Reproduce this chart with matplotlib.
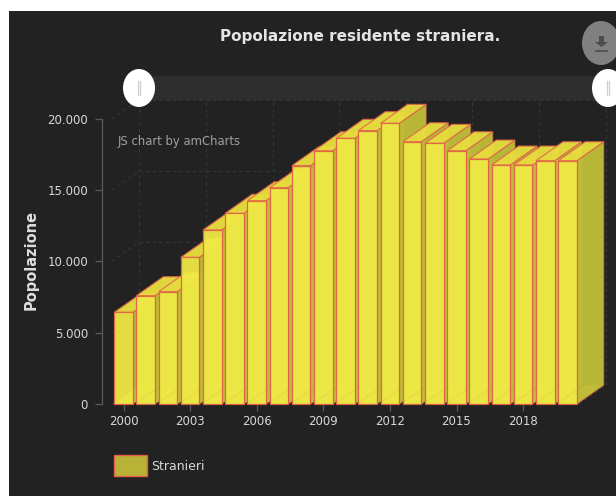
import matplotlib
matplotlib.use('Agg')
import matplotlib.pyplot as plt
from matplotlib.patches import Ellipse, Polygon, Rectangle

years = list(range(2000, 2021))
stranieri = [6420, 7590, 7870, 10270, 12190, 13360, 14240, 15150, 16690, 17740, 18610,
             19150, 19660, 18370, 18260, 17740, 17160, 16740, 16740, 17040, 17040]
y_ticks = [0, 5000, 10000, 15000, 20000]
y_labels = ['0', '5.000', '10.000', '15.000', '20.000']
x_tick_years = [2000, 2003, 2006, 2009, 2012, 2015, 2018]

W, H = 616, 496
BG = '#222222'
TEXT = '#d8d8d8'
EDGE = '#e2604a'
GRID = '#363636'

# fake 3d depth, in data units (27px right, 19px up)
DEPTH_X = 1.216
DEPTH_Y = 1330
BAR_W = 0.84


def px_box(left, top, right, bottom):
    return [left / W, 1 - bottom / H, (right - left) / W, (bottom - top) / H]


def draw_bar(ax, i, value):
    l, r = i - BAR_W / 2, i + BAR_W / 2
    dx, dy = DEPTH_X, DEPTH_Y
    # points, fill, fill alpha, edge alpha
    faces = [
        ([(l, 0), (r, 0), (r + dx, dy), (l + dx, dy)], '#c4c23c', 0.9, 0.25),  # floor
        ([(r, 0), (r + dx, dy), (r + dx, value + dy), (r, value)], '#bfbd38', 0.96, 0.45),  # side
        ([(l, value), (r, value), (r + dx, value + dy), (l + dx, value + dy)], '#e6dc3e', 0.97, 0.8),  # top
        ([(l, 0), (r, 0), (r, value), (l, value)], '#f0ea46', 0.94, 0.95),  # front
    ]
    for pts, color, fill_alpha, edge_alpha in faces:
        ax.add_patch(Polygon(pts, closed=True, facecolor=color, edgecolor='none',
                             alpha=fill_alpha, clip_on=False, zorder=3))
        ax.add_patch(Polygon(pts, closed=True, facecolor='none', edgecolor=EDGE,
                             linewidth=0.9, alpha=edge_alpha, clip_on=False, zorder=3))


fig = plt.figure(figsize=(W / 100, H / 100), dpi=100, facecolor='white')
fig.add_artist(Rectangle((9 / W, 0), 1, 1 - 11 / H, transform=fig.transFigure,
                         facecolor=BG, edgecolor='none', zorder=-1))

ax = fig.add_axes(px_box(112.4, 118.5, 578.6, 404))
ax.patch.set_visible(False)
ax.set_xlim(-0.5, 20.5)
ax.set_ylim(0, 20000)

# dashed back wall, left wall and floor
grid_style = dict(color=GRID, linewidth=0.8, linestyle=(0, (3, 3)), clip_on=False, zorder=1)
for v in y_ticks:
    ax.plot([-0.5 + DEPTH_X, 20.5 + DEPTH_X], [v + DEPTH_Y, v + DEPTH_Y], **grid_style)
    ax.plot([-0.5, -0.5 + DEPTH_X], [v, v + DEPTH_Y], **grid_style)
for k in range(-1, 21, 3):
    gx = k + 0.5 + DEPTH_X
    ax.plot([gx, gx], [DEPTH_Y, 20000 + DEPTH_Y], **grid_style)
    ax.plot([gx - DEPTH_X, gx], [0, DEPTH_Y], **grid_style)
ax.plot([20.5 + DEPTH_X] * 2, [DEPTH_Y, 20000 + DEPTH_Y], **grid_style)
ax.plot([20.5, 20.5 + DEPTH_X], [0, DEPTH_Y], **grid_style)

for i, value in enumerate(stranieri):
    draw_bar(ax, i, value)

for side in ['top', 'right', 'bottom']:
    ax.spines[side].set_visible(False)
ax.spines['left'].set_position(('outward', 7.5))
ax.spines['left'].set_color('#5a5a5a')
ax.spines['left'].set_linewidth(0.9)
ax.set_yticks(y_ticks)
ax.set_yticklabels(y_labels)
ax.set_xticks([years.index(y) for y in x_tick_years])
ax.set_xticklabels([str(y) for y in x_tick_years])
ax.tick_params(axis='both', colors='#5a5a5a', labelcolor=TEXT, labelsize=8.5, length=5, width=0.9)
ax.tick_params(axis='x', pad=3)
ax.tick_params(axis='y', pad=5)

# page furniture in pixel coordinates
ui = fig.add_axes([0, 0, 1, 1], zorder=5)
ui.patch.set_visible(False)
ui.axis('off')
ui.set_xlim(0, W)
ui.set_ylim(H, 0)

ui.add_patch(Rectangle((139, 76), 469, 24, facecolor='#2e2e2e', edgecolor='none'))
for hx in [139, 608]:
    ui.add_patch(Ellipse((hx, 88), 32, 38, facecolor='white', edgecolor='none'))
    ui.plot([hx - 1.2, hx - 1.2], [81, 95], color='#cfcfcf', linewidth=0.9)
    ui.plot([hx + 1.2, hx + 1.2], [81, 95], color='#cfcfcf', linewidth=0.9)

ui.add_patch(Ellipse((601, 43), 38, 44, facecolor='#808080', edgecolor='none'))
ui.add_patch(Polygon([(599, 36), (604, 36), (604, 42), (608, 42), (601.5, 47), (595, 42), (599, 42)],
                     closed=True, facecolor='#4c4c4c', edgecolor='none'))
ui.plot([596, 607], [50.5, 50.5], color='#4c4c4c', linewidth=1.2)

ui.text(360, 37, 'Popolazione residente straniera.', color='#e4e4e4', fontsize=11,
        fontweight='bold', ha='center', va='center')
ui.text(118, 142, 'JS chart by amCharts', color='#a0a0a0', fontsize=8.4, va='center')
ui.text(31, 260, 'Popolazione', color='#dddddd', fontsize=10.5, fontweight='bold',
        rotation=90, ha='center', va='center')

ui.add_patch(Rectangle((113.5, 455), 33, 20.5, facecolor='#b8b336', edgecolor=EDGE, linewidth=1))
ui.text(151, 466, 'Stranieri', color=TEXT, fontsize=9, va='center')

fig.savefig('out.png', dpi=100, facecolor=fig.get_facecolor())
